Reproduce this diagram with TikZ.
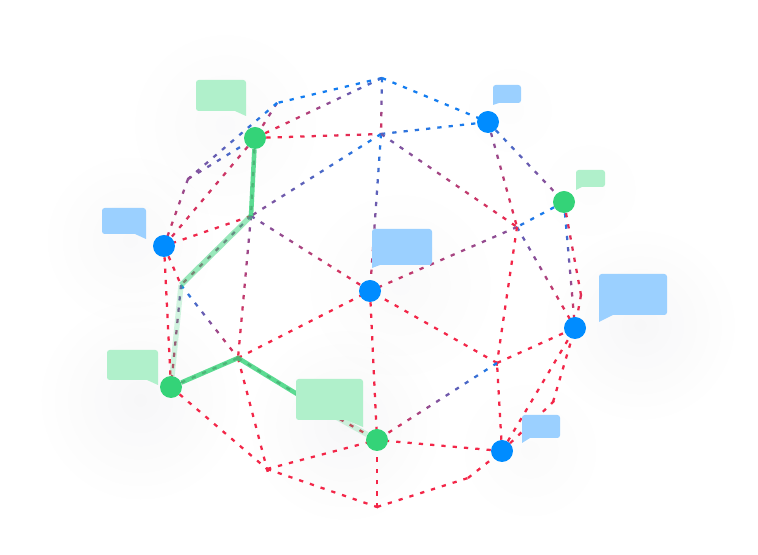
\documentclass[tikz,border=0pt]{standalone}
\usetikzlibrary{backgrounds,decorations.markings,fadings}
\definecolor{wireblue}{RGB}{20,125,240}
\definecolor{wirered}{RGB}{243,38,72}
\definecolor{peerblue}{RGB}{0,140,255}
\definecolor{peergreen}{RGB}{52,211,120}
\definecolor{talkblue}{RGB}{155,208,255}
\definecolor{talkgreen}{RGB}{176,240,203}
\tikzfading[name=softglow,inner color=transparent!0,outer color=transparent!100]
\tikzset{peer/.style={circle,inner sep=0pt,minimum size=16.5pt}}
\tikzset{glow/.style={fill=black!80!blue,opacity=#1,path fading=softglow}}
\tikzset{route/.style={peergreen,line width=3.4pt,opacity=#1}}
\tikzset{talk/.style={fill=#1,rounded corners=2pt}}
\tikzset{wire/.style 2 args={draw=none,decorate,decoration={markings,
    mark=between positions 0 and 1 step 8.5pt with {
        \pgfmathsetmacro{\wiremix}{#1+(#2-#1)*(\pgfkeysvalueof{/pgf/decoration/mark info/distance from start}/\pgfdecoratedpathlength)}
        \draw [wireblue!\wiremix!wirered,line width=1.7pt] (0pt,0pt) -- (3.2pt,0pt);
    }}}}

\begin{document}
\begin{tikzpicture}[x=0.75pt,y=-0.75pt]
    \useasboundingbox (0,0) rectangle (758,555);
    % joints of the mesh
    \coordinate (top) at (382,78);
    \coordinate (roof) at (277,103);
    \coordinate (crown) at (381,134);
    \coordinate (shoulder) at (188,179);
    \coordinate (midl) at (251,216);
    \coordinate (midr) at (517,227);
    \coordinate (edgel) at (181,285);
    \coordinate (edger) at (581,295);
    \coordinate (lowl) at (238,358);
    \coordinate (lowr) at (497,363);
    \coordinate (curve) at (553,402);
    \coordinate (foot) at (267,469);
    \coordinate (sole) at (468,478);
    \coordinate (bottom) at (377,507);
    \coordinate (hidden) at (320,408);
    % peers
    \node [peer,fill=peergreen] (pa) at (255,138) {};
    \node [peer,fill=peerblue] (pb) at (488,122) {};
    \node [peer,fill=peergreen] (pc) at (564,202) {};
    \node [peer,fill=peerblue] (pd) at (164,246) {};
    \node [peer,fill=peerblue] (pe) at (370,291) {};
    \node [peer,fill=peerblue] (pf) at (575,328) {};
    \node [peer,fill=peergreen] (pg) at (171,387) {};
    \node [peer,fill=peergreen] (ph) at (377,440) {};
    \node [peer,fill=peerblue] (pi) at (502,451) {};
    \begin{scope}[on background layer]
        \fill [white] (0,0) rectangle (758,555);
        \foreach \x/\y/\r/\o in {225/125/100/.02,130/240/90/.025,140/400/105/.03,345/425/100/.03,
            400/285/100/.02,640/325/100/.03,530/450/75/.015,510/110/55/.007,590/190/60/.007} {
            \fill [glow=\o] (\x,\y) circle (\r);
        }
        \foreach \a/\b/\p/\q in {top/roof/100/100,roof/pa/50/15,roof/shoulder/100/45,
            shoulder/pd/45/15,shoulder/pa/45/90,pa/crown/0/10,pa/top/0/85,pa/pd/20/10,
            top/crown/90/0,top/pb/100/100,crown/pb/85/100,crown/midl/100/45,crown/pe/100/15,
            crown/midr/60/0,pb/midr/50/0,pb/pc/85/40,pc/midr/100/90,midr/pe/50/15,midr/pf/70/0,
            midr/lowr/0/0,pc/pf/100/10,pc/edger/10/5,edger/pf/10/0,midl/pd/5/0,midl/pe/55/5,
            midl/lowl/50/0,pd/edgel/0/5,pd/pg/0/0,edgel/lowl/100/0,lowl/pe/0/0,pe/ph/0/0,
            lowl/foot/0/0,pg/foot/0/0,foot/ph/0/0,foot/bottom/0/0,bottom/ph/0/0,bottom/sole/0/0,
            sole/pi/0/0,pi/ph/0/0,pi/lowr/0/0,pi/pf/0/0,pi/curve/0/0,curve/pf/0/0,lowr/pe/0/0,
            lowr/pf/0/0,lowr/ph/100/5,pa/midl/30/30,midl/edgel/50/20,edgel/pg/60/10,
            pg/lowl/30/30,lowl/hidden/30/30,hidden/ph/20/0} {
            \draw [wire={\p}{\q}] (\a) -- (\b);
        }
        % the green route
        \draw [route=.8] (pa) -- (midl);
        \draw [route=.5,line width=4pt] (midl) -- (edgel);
        \draw [route=.22,line width=4pt] (edgel) -- (pg);
        \draw [route=.8] (pg) -- (lowl) -- (hidden);
        \draw [route=.22,line width=4pt] (hidden) -- (ph);
    \end{scope}
    % speech bubbles
    \fill [talk=talkgreen] (235,111) -- (196,111) -- (196,80) -- (246,80) -- (246,105) [sharp corners] -- (246,116) -- cycle;
    \fill [talk=talkblue] (135,234) -- (102,234) -- (102,208) -- (146,208) -- (146,230) [sharp corners] -- (146,239) -- cycle;
    \fill [talk=talkgreen] (147,380) -- (107,380) -- (107,350) -- (158,350) -- (158,375) [sharp corners] -- (158,385) -- cycle;
    \fill [talk=talkgreen] (346,420) -- (296,420) -- (296,379) -- (363,379) -- (363,415) [sharp corners] -- (363,427) -- cycle;
    \fill [talk=talkblue] (380,265) -- (428,265) -- (432,265) -- (432,229) -- (372,229) -- (372,260) [sharp corners] -- (372,268) -- cycle;
    \fill [talk=talkblue] (499,103) -- (521,103) -- (521,85) -- (493,85) -- (493,98) [sharp corners] -- (493,105) -- cycle;
    \fill [talk=talkgreen] (582,187) -- (605,187) -- (605,170) -- (576,170) -- (576,182) [sharp corners] -- (576,190) -- cycle;
    \fill [talk=talkblue] (613,315) -- (667,315) -- (667,274) -- (599,274) -- (599,310) [sharp corners] -- (599,322) -- cycle;
    \fill [talk=talkblue] (530,438) -- (560,438) -- (560,415) -- (522,415) -- (522,433) [sharp corners] -- (522,443) -- cycle;
\end{tikzpicture}
\end{document}
